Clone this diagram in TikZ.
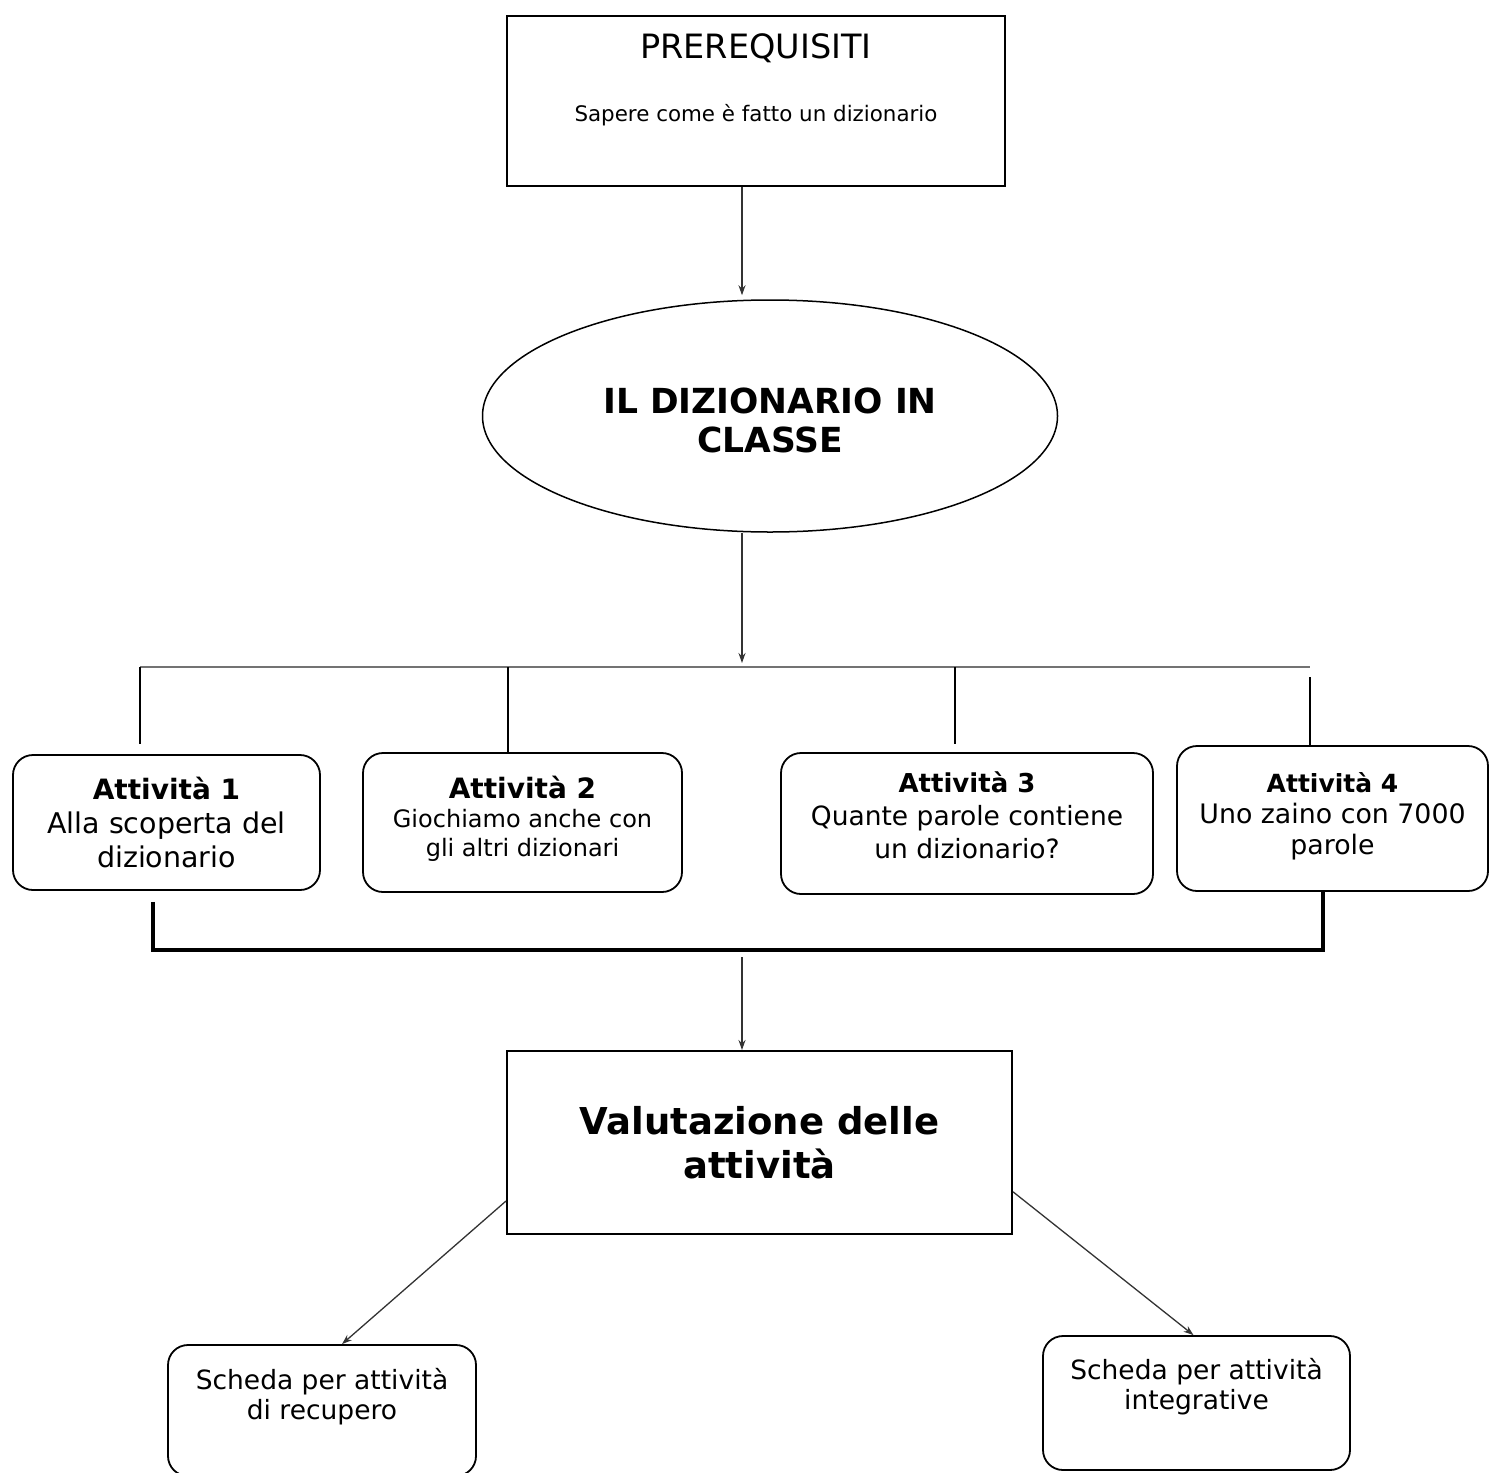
\documentclass[tikz,border=0pt]{standalone}
\usepackage{fontspec}
\setmainfont{DejaVu Sans}
\usetikzlibrary{shapes.geometric,arrows.meta}
\newcommand\padbelow[1]{\rule[-#1]{0pt}{#1}}

\begin{document}
\begin{tikzpicture}[x=1pt,y=-1pt]
        \tikzset{sqbox/.style={draw,rectangle,line width=2pt,inner sep=0pt,align=center},
            rbox/.style={draw,rectangle,rounded corners=20pt,line width=1.8pt,inner sep=0pt,align=center},
            link/.style={draw=black!80,line width=1.3pt,-{Stealth[length=10pt,width=7pt]}},
            bus/.style={line width=2.8pt}}
        \useasboundingbox (0,0) rectangle (1490,1472);

        % boxes
        \node[sqbox,minimum width=498pt,minimum height=170pt,font=\fontsize{21.4}{25}\selectfont] (prereq) at (756,101)
            {{\fontsize{33.5}{38}\selectfont PREREQUISITI}\\[38pt]Sapere come è fatto un dizionario\padbelow{46pt}};
        \node[draw,ellipse,line width=1.5pt,minimum width=575pt,minimum height=232pt,inner sep=0pt,align=center,
            font=\bfseries\fontsize{34.5}{39}\selectfont] (tema) at (770,416) {\rule{0pt}{34pt}IL DIZIONARIO IN\\CLASSE};
        \node[rbox,minimum width=307pt,minimum height=135pt,font=\fontsize{28.5}{34}\selectfont] (act1) at (166.5,822.5)
            {\textbf{\fontsize{28}{34}\selectfont Attività 1}\\Alla scoperta del\\dizionario};
        \node[rbox,minimum width=319pt,minimum height=139pt,font=\fontsize{24}{29}\selectfont] (act2) at (522.5,822.5)
            {\textbf{\fontsize{28}{34}\selectfont Attività 2}\\Giochiamo anche con\\gli altri dizionari\padbelow{12pt}};
        \node[rbox,minimum width=372pt,minimum height=141pt,font=\fontsize{26.5}{33}\selectfont] (act3) at (967,823.5)
            {\textbf{\fontsize{26}{32}\selectfont Attività 3}\\Quante parole contiene\\un dizionario?\padbelow{16pt}};
        \node[rbox,minimum width=311pt,minimum height=145pt,font=\fontsize{26.8}{31}\selectfont] (act4) at (1332.5,818.5)
            {\textbf{\fontsize{25}{31}\selectfont Attività 4}\\Uno zaino con 7000\\parole\padbelow{10pt}};
        \node[sqbox,minimum width=505pt,minimum height=183pt,font=\bfseries\fontsize{37}{44}\selectfont] (valut) at (759.5,1142.5)
            {Valutazione delle\\attività};
        \node[rbox,minimum width=308pt,minimum height=131pt,font=\fontsize{26.5}{30}\selectfont] (recup) at (322,1410.5)
            {Scheda per attività\\di recupero\padbelow{34pt}};
        \node[rbox,minimum width=307pt,minimum height=134pt,font=\fontsize{26.5}{30}\selectfont] (integ) at (1196.5,1403)
            {Scheda per attività\\integrative\padbelow{38pt}};

        % connectors
        \coordinate (axis) at (742,0);
        \coordinate (busL) at (140,667);
        \coordinate (busR) at (1310,667);
        \coordinate (d2) at (508,667);
        \coordinate (d3) at (955,667);
        \coordinate (joinL) at (153,950);
        \coordinate (joinR) at (1323,950);

        \draw[link,shorten >=4pt] (prereq.south -| axis) -- (tema.north -| axis);
        \draw[link,shorten >=4pt] (tema.south -| axis) -- (busL -| axis);
        \draw[bus,draw=black!55] (busL) -- (busR);
        \draw[bus,shorten >=10pt] (busL) -- (act1.north -| busL);
        \draw[bus] (d2) -- (act2.north -| d2);
        \draw[bus,shorten >=8pt] (d3) -- (act3.north -| d3);
        \draw[bus,shorten <=10pt] (busR) -- (act4.north -| busR);
        \draw[bus,line width=3.4pt,shorten <=11pt] (act1.south -| joinL) -- (joinL) -- (joinR) -- (act4.south -| joinR);
        \draw[link,shorten <=7pt] (joinL -| axis) -- (valut.north -| axis);
        \draw[link] (valut.193) -- ([xshift=20pt]recup.north);
        \draw[link] (valut.349) -- ([xshift=-3pt]integ.north);
\end{tikzpicture}
\end{document}
